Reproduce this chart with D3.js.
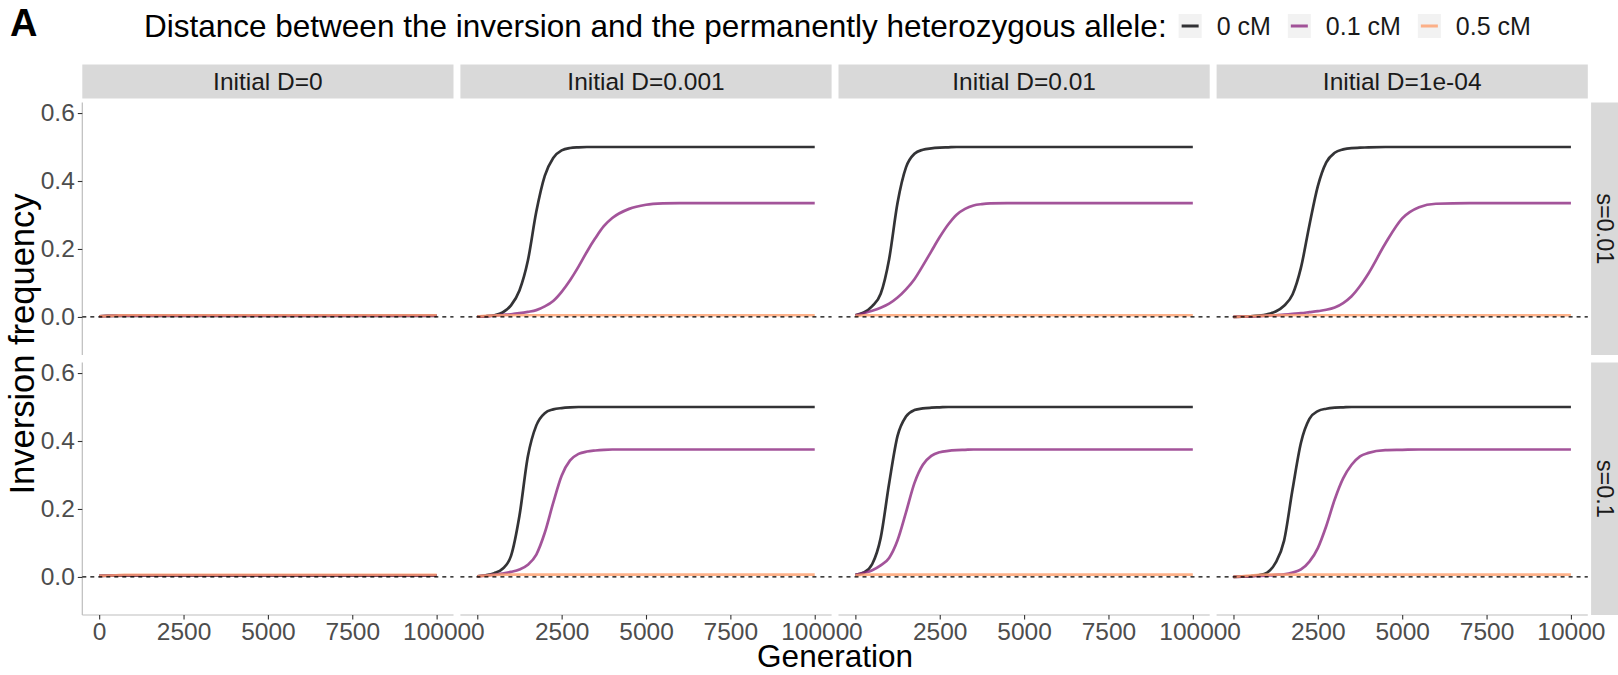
<!DOCTYPE html>
<html>
<head>
<meta charset="utf-8">
<script src="https://cdn.jsdelivr.net/npm/d3@7"></script>
<style>
  body { margin: 0; background: #fff; }
  svg { font-family: 'Liberation Sans', Arial, sans-serif; }
</style>
</head>
<body>
<svg id="chart" width="1618" height="675"></svg>
<script>
const generations = [0, 250, 500, 750, 1000, 1250, 1500, 1750, 2000, 2250, 2500, 2750, 3000, 3250, 3500, 3750, 4000, 4500, 5000, 5500, 6000, 7000, 8000, 10000]

const distances = ['0 cM', '0.1 cM', '0.5 cM']
const initialD = ['0', '0.001', '0.01', '1e-04']
const selection = ['0.01', '0.1']
const xTicks = [0, 2500, 5000, 7500, 10000]
const yTicks = [0, 0.2, 0.4, 0.6]

// s = 0.01
const s001_D0_0cM = [0.002, 0.003, 0.003, 0.003, 0.003, 0.003, 0.003, 0.003, 0.003, 0.003, 0.003, 0.003, 0.003, 0.003, 0.003, 0.003, 0.003, 0.003, 0.003, 0.003, 0.003, 0.003, 0.003, 0.003]
const s001_D0_01cM = [0.002, 0.003, 0.004, 0.004, 0.004, 0.004, 0.004, 0.004, 0.004, 0.004, 0.004, 0.004, 0.004, 0.004, 0.004, 0.004, 0.004, 0.004, 0.004, 0.004, 0.004, 0.004, 0.004, 0.004]
const s001_D0_05cM = [0.002, 0.003, 0.004, 0.005, 0.005, 0.005, 0.005, 0.005, 0.005, 0.005, 0.005, 0.005, 0.005, 0.005, 0.005, 0.005, 0.005, 0.005, 0.005, 0.005, 0.005, 0.005, 0.005, 0.005]

const s001_D0001_0cM = [0.001, 0.002, 0.005, 0.013, 0.034, 0.078, 0.166, 0.31, 0.415, 0.468, 0.49, 0.497, 0.499, 0.5, 0.5, 0.5, 0.5, 0.5, 0.5, 0.5, 0.5, 0.5, 0.5, 0.5]
const s001_D0001_01cM = [0.001, 0.002, 0.004, 0.006, 0.008, 0.011, 0.015, 0.02, 0.031, 0.047, 0.074, 0.108, 0.148, 0.192, 0.232, 0.267, 0.291, 0.318, 0.33, 0.334, 0.335, 0.335, 0.335, 0.335]
const s001_D0001_05cM = [0.001, 0.003, 0.004, 0.005, 0.005, 0.005, 0.005, 0.005, 0.005, 0.005, 0.005, 0.005, 0.005, 0.005, 0.005, 0.005, 0.005, 0.005, 0.005, 0.005, 0.005, 0.005, 0.005, 0.005]

const s001_D001_0cM = [0.005, 0.013, 0.032, 0.068, 0.17, 0.336, 0.44, 0.48, 0.492, 0.496, 0.498, 0.499, 0.5, 0.5, 0.5, 0.5, 0.5, 0.5, 0.5, 0.5, 0.5, 0.5, 0.5, 0.5]
const s001_D001_01cM = [0.005, 0.011, 0.018, 0.027, 0.039, 0.057, 0.081, 0.111, 0.151, 0.193, 0.235, 0.272, 0.301, 0.318, 0.328, 0.332, 0.334, 0.335, 0.335, 0.335, 0.335, 0.335, 0.335, 0.335]
const s001_D001_05cM = [0.003, 0.005, 0.005, 0.005, 0.005, 0.005, 0.005, 0.005, 0.005, 0.005, 0.005, 0.005, 0.005, 0.005, 0.005, 0.005, 0.005, 0.005, 0.005, 0.005, 0.005, 0.005, 0.005, 0.005]

const s001_D1e4_0cM = [0, 0.001, 0.002, 0.004, 0.008, 0.016, 0.033, 0.066, 0.145, 0.27, 0.385, 0.455, 0.483, 0.493, 0.497, 0.498, 0.499, 0.5, 0.5, 0.5, 0.5, 0.5, 0.5, 0.5]
const s001_D1e4_01cM = [0, 0.001, 0.001, 0.002, 0.004, 0.005, 0.007, 0.009, 0.011, 0.014, 0.017, 0.021, 0.028, 0.041, 0.061, 0.091, 0.128, 0.216, 0.29, 0.323, 0.333, 0.335, 0.335, 0.335]
const s001_D1e4_05cM = [0, 0.001, 0.002, 0.003, 0.004, 0.005, 0.005, 0.005, 0.005, 0.005, 0.005, 0.005, 0.005, 0.005, 0.005, 0.005, 0.005, 0.005, 0.005, 0.005, 0.005, 0.005, 0.005, 0.005]

// s = 0.1
const s01_D0_0cM = [0.003, 0.004, 0.004, 0.004, 0.004, 0.004, 0.004, 0.004, 0.004, 0.004, 0.004, 0.004, 0.004, 0.004, 0.004, 0.004, 0.004, 0.004, 0.004, 0.004, 0.004, 0.004, 0.004, 0.004]
const s01_D0_01cM = [0.003, 0.004, 0.005, 0.005, 0.005, 0.005, 0.005, 0.005, 0.005, 0.005, 0.005, 0.005, 0.005, 0.005, 0.005, 0.005, 0.005, 0.005, 0.005, 0.005, 0.005, 0.005, 0.005, 0.005]
const s01_D0_05cM = [0.003, 0.004, 0.005, 0.006, 0.006, 0.006, 0.006, 0.006, 0.006, 0.006, 0.006, 0.006, 0.006, 0.006, 0.006, 0.006, 0.006, 0.006, 0.006, 0.006, 0.006, 0.006, 0.006, 0.006]

const s01_D0001_0cM = [0.002, 0.005, 0.011, 0.024, 0.062, 0.18, 0.355, 0.446, 0.482, 0.493, 0.497, 0.499, 0.5, 0.5, 0.5, 0.5, 0.5, 0.5, 0.5, 0.5, 0.5, 0.5, 0.5, 0.5]
const s01_D0001_01cM = [0.002, 0.004, 0.007, 0.01, 0.015, 0.022, 0.036, 0.066, 0.13, 0.218, 0.298, 0.343, 0.362, 0.369, 0.372, 0.374, 0.375, 0.375, 0.375, 0.375, 0.375, 0.375, 0.375, 0.375]
const s01_D0001_05cM = [0.002, 0.004, 0.006, 0.007, 0.007, 0.007, 0.007, 0.007, 0.007, 0.007, 0.007, 0.007, 0.007, 0.007, 0.007, 0.007, 0.007, 0.007, 0.007, 0.007, 0.007, 0.007, 0.007, 0.007]

const s01_D001_0cM = [0.006, 0.013, 0.038, 0.115, 0.275, 0.415, 0.472, 0.491, 0.496, 0.498, 0.499, 0.5, 0.5, 0.5, 0.5, 0.5, 0.5, 0.5, 0.5, 0.5, 0.5, 0.5, 0.5, 0.5]
const s01_D001_01cM = [0.006, 0.012, 0.02, 0.034, 0.056, 0.108, 0.19, 0.276, 0.33, 0.356, 0.367, 0.371, 0.373, 0.374, 0.375, 0.375, 0.375, 0.375, 0.375, 0.375, 0.375, 0.375, 0.375, 0.375]
const s01_D001_05cM = [0.005, 0.007, 0.007, 0.007, 0.007, 0.007, 0.007, 0.007, 0.007, 0.007, 0.007, 0.007, 0.007, 0.007, 0.007, 0.007, 0.007, 0.007, 0.007, 0.007, 0.007, 0.007, 0.007, 0.007]

const s01_D1e4_0cM = [0, 0.001, 0.002, 0.005, 0.013, 0.042, 0.107, 0.257, 0.395, 0.465, 0.488, 0.495, 0.498, 0.499, 0.5, 0.5, 0.5, 0.5, 0.5, 0.5, 0.5, 0.5, 0.5, 0.5]
const s01_D1e4_01cM = [0, 0.001, 0.002, 0.003, 0.004, 0.006, 0.008, 0.013, 0.022, 0.045, 0.085, 0.15, 0.228, 0.29, 0.33, 0.355, 0.365, 0.373, 0.374, 0.375, 0.375, 0.375, 0.375, 0.375]
const s01_D1e4_05cM = [0, 0.002, 0.004, 0.006, 0.007, 0.007, 0.007, 0.007, 0.007, 0.007, 0.007, 0.007, 0.007, 0.007, 0.007, 0.007, 0.007, 0.007, 0.007, 0.007, 0.007, 0.007, 0.007, 0.007]

// magma colours, drawn at alpha 0.8
const colors = ['#000004', '#8C2981', '#FE9F6D']

// rows = selection, columns = initial D, inner = distance
const panels = [
  [
    [s001_D0_0cM, s001_D0_01cM, s001_D0_05cM],
    [s001_D0001_0cM, s001_D0001_01cM, s001_D0001_05cM],
    [s001_D001_0cM, s001_D001_01cM, s001_D001_05cM],
    [s001_D1e4_0cM, s001_D1e4_01cM, s001_D1e4_05cM],
  ],
  [
    [s01_D0_0cM, s01_D0_01cM, s01_D0_05cM],
    [s01_D0001_0cM, s01_D0001_01cM, s01_D0001_05cM],
    [s01_D001_0cM, s01_D001_01cM, s01_D001_05cM],
    [s01_D1e4_0cM, s01_D1e4_01cM, s01_D1e4_05cM],
  ],
]

let svg = d3.select('#chart')

let panelLeft = 82.3,
  panelW = 371.2,
  gapX = 6.9,
  panelTop = 102.5,
  panelH = 252.5,
  gapY = 7.5,
  stripH = 34,
  stripPad = 4,
  tickFont = '24.5px'

let x = d3.scaleLinear().domain([-500, 10500]).range([0, panelW])
let y = d3.scaleLinear().domain([-0.112, 0.631]).range([panelH, 0])

let line = d3
  .line()
  .x((d, i) => x(generations[i]))
  .y(d => y(d))
  .curve(d3.curveMonotoneX)

// panel tag
svg
  .append('text')
  .attr('x', 10)
  .attr('y', 36)
  .style('font-size', '38px')
  .style('font-weight', 'bold')
  .text('A')

// legend
let legendTitle = svg
  .append('text')
  .attr('x', 144)
  .attr('y', 37)
  .style('font-size', '31.5px')
  .text('Distance between the inversion and the permanently heterozygous allele:')

let lx = 144 + legendTitle.node().getComputedTextLength() + 12
distances.forEach((lab, i) => {
  let g = svg.append('g').attr('transform', 'translate(' + lx + ',14)')
  g.append('rect').attr('width', 23).attr('height', 24).attr('fill', '#F2F2F2')
  g.append('line')
    .attr('x1', 3).attr('x2', 20).attr('y1', 12).attr('y2', 12)
    .attr('stroke', colors[i]).attr('stroke-opacity', 0.8).attr('stroke-width', 3)
  let t = svg
    .append('text')
    .attr('x', lx + 38)
    .attr('y', 35)
    .style('font-size', '25px')
    .attr('fill', '#1A1A1A')
    .text(lab)
  lx += 38 + t.node().getComputedTextLength() + 17
})

// column strips
initialD.forEach((d, c) => {
  let px = panelLeft + c * (panelW + gapX)
  svg.append('rect')
    .attr('x', px).attr('y', panelTop - stripPad - stripH)
    .attr('width', panelW).attr('height', stripH)
    .attr('fill', '#D9D9D9')
  svg.append('text')
    .attr('x', px + panelW / 2).attr('y', panelTop - stripPad - stripH / 2)
    .attr('text-anchor', 'middle').attr('dy', '0.35em')
    .style('font-size', tickFont).attr('fill', '#1A1A1A')
    .text('Initial D=' + d)
})

panels.forEach((row, r) => {
  let py = panelTop + r * (panelH + gapY)

  // row strip
  let sx = panelLeft + 4 * panelW + 3 * gapX + 3.3
  svg.append('rect')
    .attr('x', sx).attr('y', py)
    .attr('width', 1618 - sx).attr('height', panelH)
    .attr('fill', '#D9D9D9')
  svg.append('text')
    .attr('transform', 'translate(' + (sx + 14) + ',' + (py + panelH / 2) + ') rotate(90)')
    .attr('text-anchor', 'middle').attr('dy', '0.35em')
    .style('font-size', '23.5px').attr('fill', '#1A1A1A')
    .text('s=' + selection[r])

  // y axis
  let yAxis = svg.append('g')
    .attr('transform', 'translate(' + panelLeft + ',' + py + ')')
    .call(d3.axisLeft(y).tickValues(yTicks).tickFormat(d3.format('.1f')).tickSize(4.5).tickPadding(3))
  yAxis.select('.domain').attr('stroke', '#BDBDBD').attr('stroke-width', 1.2).attr('d', 'M0,0V' + panelH)
  yAxis.selectAll('.tick line').attr('stroke', '#333').attr('stroke-width', 1.1)
  yAxis.selectAll('.tick text')
    .style('font-size', tickFont).attr('fill', '#4D4D4D')
    .style('font-family', "'Liberation Sans', Arial, sans-serif")

  row.forEach((series, c) => {
    let px = panelLeft + c * (panelW + gapX)
    let g = svg.append('g').attr('transform', 'translate(' + px + ',' + py + ')')

    series.forEach((vals, k) => {
      g.append('path')
        .datum(vals)
        .attr('d', line)
        .attr('fill', 'none')
        .attr('stroke', colors[k])
        .attr('stroke-width', 2.7)
        .attr('stroke-opacity', 0.8)
    })

    g.append('line')
      .attr('x1', 0).attr('x2', panelW)
      .attr('y1', y(0)).attr('y2', y(0))
      .attr('stroke', '#000').attr('stroke-width', 1.2)
      .attr('stroke-dasharray', '4,4')

    if (r === panels.length - 1) {
      let xAxis = svg.append('g')
        .attr('transform', 'translate(' + px + ',' + (py + panelH) + ')')
        .call(d3.axisBottom(x).tickValues(xTicks).tickFormat(d3.format('d')).tickSize(4.5).tickPadding(3))
      xAxis.select('.domain').attr('stroke', '#BDBDBD').attr('stroke-width', 1.2).attr('d', 'M0,0H' + panelW)
      xAxis.selectAll('.tick line').attr('stroke', '#333').attr('stroke-width', 1.1)
      xAxis.selectAll('.tick text')
        .style('font-size', tickFont).attr('fill', '#4D4D4D')
        .style('font-family', "'Liberation Sans', Arial, sans-serif")
    }
  })
})

// axis titles
let plotW = 4 * panelW + 3 * gapX
svg.append('text')
  .attr('x', panelLeft + plotW / 2).attr('y', 667)
  .attr('text-anchor', 'middle')
  .style('font-size', '31.5px')
  .text('Generation')

svg.append('text')
  .attr('transform', 'translate(34,344) rotate(-90)')
  .attr('text-anchor', 'middle')
  .style('font-size', '34.5px')
  .text('Inversion frequency')
</script>
</body>
</html>
